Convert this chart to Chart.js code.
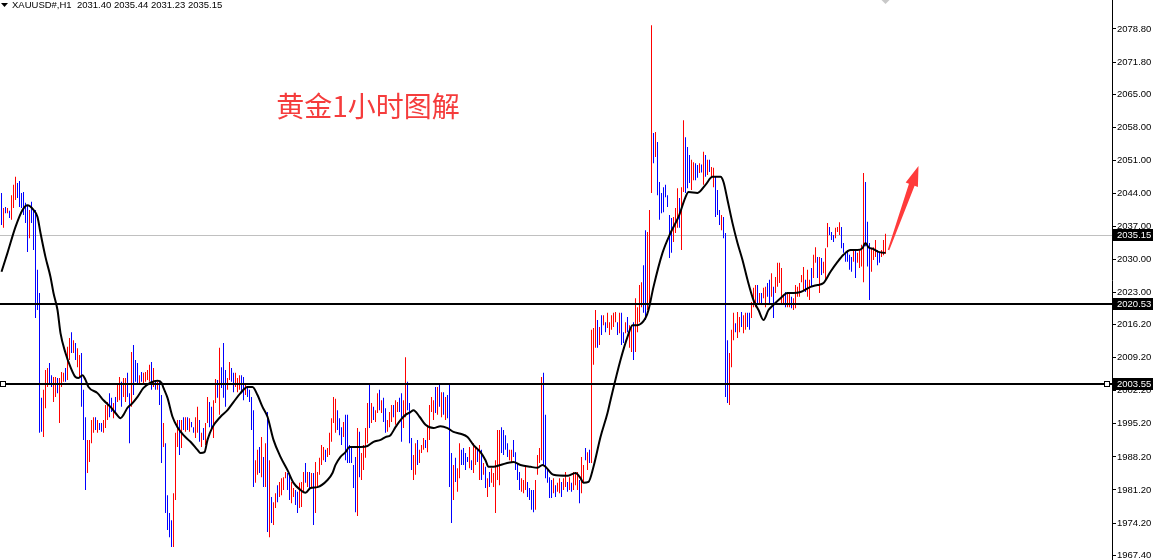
<!DOCTYPE html>
<html>
<head>
<meta charset="utf-8">
<script src="https://cdn.jsdelivr.net/npm/chart.js@4/dist/chart.umd.min.js"></script>
<style>
html,body{margin:0;padding:0;background:#fff;overflow:hidden;}
canvas{display:block;}
</style>
</head>
<body>
<canvas id="chart" width="1153" height="560"></canvas>
<script>
// H1 bars (price units)
var highs=[
2044.1,2040.9,2041.1,2040.9,2040.3,2043.6,2045.8,2047.5,2046.2,2046.6,
2044.1,2044.3,2042.0,2041.5,2040.5,2042.2,2040.5,2040.5,2027.8,2022.9,
2000.7,2002.4,2006.6,2007.0,2008.1,2005.5,2005.1,2005.1,2004.9,2004.9,
2006.2,2006.0,2007.0,2011.5,2013.4,2014.6,2012.9,2012.3,2011.2,2009.8,
2010.2,2002.4,1996.6,1991.8,1991.8,1996.0,1996.6,1996.6,1996.0,1995.4,
1995.4,1996.0,1999.2,1999.8,2001.7,2000.7,1999.6,2000.9,2003.4,2005.1,
2004.1,2004.9,2004.9,2006.0,2001.7,2010.4,2011.9,2008.7,2008.1,2005.5,
2006.2,2006.0,2006.2,2006.6,2007.7,2008.3,2007.0,2004.5,2004.1,2004.1,
2001.3,1995.4,1991.1,1980.1,1976.3,1974.8,1980.5,1993.3,1996.0,1996.0,
1996.0,1996.6,1996.6,1996.6,1996.4,1995.6,1994.5,1996.6,1998.8,1996.0,
1993.3,1994.3,1995.4,2000.9,1999.8,1998.8,2000.2,2004.7,2004.5,2011.3,
2007.2,2012.3,2006.6,2004.9,2008.3,2007.0,2006.0,2006.0,2004.9,2005.5,
2005.5,2005.1,2003.4,2003.0,2002.4,2000.9,1998.1,1987.5,1989.7,1990.3,
1992.4,1988.2,1991.1,1997.7,1987.5,1979.7,1978.6,1980.5,1982.2,1982.9,
1983.7,1983.9,1985.0,1984.8,1984.4,1982.9,1981.6,1981.2,1980.8,1982.7,
1982.9,1985.0,1986.9,1985.0,1985.0,1984.8,1984.8,1987.1,1985.0,1988.0,
1990.7,1990.3,1989.7,1990.1,1993.3,1996.4,2000.9,2000.5,1998.1,1996.4,
1994.5,1995.6,1997.1,1997.1,1990.7,1990.1,1986.5,1988.2,1994.3,1993.5,
1989.0,1990.7,1994.3,1999.6,2003.8,1999.6,1998.8,1998.1,2001.7,2002.4,
2000.2,2000.7,1998.5,1996.0,1997.7,1999.2,1999.2,2000.2,1999.8,2000.7,
2001.7,2000.2,2009.3,2004.1,1999.6,1992.2,1988.6,1991.1,1991.8,1989.7,
1990.7,1992.2,1991.8,1994.9,1999.2,2000.9,2000.2,2003.0,2003.0,2003.4,
2001.9,2001.9,2000.9,2001.3,2003.4,1989.0,1986.5,1988.0,1985.8,1991.1,
1989.7,1990.1,1989.0,1988.2,1990.3,1987.5,1991.1,1990.3,1990.1,1990.7,
1989.7,1986.9,1986.1,1983.7,1985.0,1985.8,1984.8,1987.5,1993.9,1993.9,
1994.5,1993.9,1992.8,1991.1,1989.7,1989.7,1991.8,1989.2,1986.9,1985.0,
1983.7,1983.3,1986.1,1982.9,1981.6,1981.2,1981.2,1983.3,1988.6,1990.1,
2005.1,2006.0,1997.1,1985.4,1983.9,1983.3,1983.7,1982.2,1982.7,1983.7,
1982.9,1983.7,1985.0,1982.9,1983.9,1982.7,1985.0,1985.0,1985.0,1983.3,
1988.2,1986.5,1990.1,1989.2,1989.7,
2015.1,2015.5,2019.3,2017.2,2015.7,2018.2,2018.2,2016.7,2018.7,2016.7,
2018.2,2018.7,2018.9,2016.7,2018.7,2018.7,2014.6,2016.7,2017.8,2016.1,
2016.1,2016.7,2021.8,2019.9,2024.6,2025.2,2028.8,2036.2,2035.8,2040.5,
2079.6,2056.8,2057.0,2054.9,2046.4,2044.1,2045.3,2045.8,2043.6,2039.4,
2038.8,2039.0,2040.9,2045.1,2043.0,2045.3,2059.5,2055.9,2053.8,2052.1,
2051.1,2050.6,2050.4,2050.0,2050.4,
2050.1,2052.8,2052.1,2051.1,2051.1,2049.6,2049.4,2047.5,2044.7,2040.5,
2039.4,2039.0,2035.6,2012.9,2010.2,2015.1,2018.7,2016.5,2018.9,2017.8,
2018.9,2018.2,2018.7,2018.7,2018.7,2021.0,2024.0,2024.6,2024.6,2022.9,
2022.9,2024.0,2024.2,2025.0,2025.7,2027.1,2024.2,2026.3,2029.3,2029.3,
2028.2,2022.5,2023.1,2022.9,2023.1,2022.1,2021.8,2024.6,2024.2,2025.0,
2026.7,2028.4,2025.7,2027.8,2025.7,2028.2,2031.0,2032.6,2030.5,2030.5,
2030.3,2029.5,2032.4,2037.7,2036.9,2035.8,2035.2,2036.7,2036.9,2037.9,
2036.9,2033.5,2031.6,2032.0,2031.0,2030.5,2032.0,2032.0,2031.4,2032.0,
2033.1,2048.3,2046.4,2038.0,2033.5,2032.4,2032.6,2034.1,2032.0,2031.6,
2032.0,2034.1,2035.44
];
var lows=[
2037.3,2036.7,2039.8,2039.8,2038.8,2038.4,2040.9,2042.6,2043.0,2041.1,
2040.9,2039.4,2037.7,2031.6,2034.5,2037.7,2032.0,2017.6,2019.3,1993.3,
1993.5,1992.4,1998.5,2003.0,2003.8,2003.0,1999.8,2000.9,2001.7,1995.4,
2003.0,2004.1,2004.1,2004.5,2008.7,2010.2,2010.2,2008.7,2007.2,2005.1,
1998.8,1991.8,1981.2,1984.8,1987.1,1991.1,1993.3,1993.9,1993.3,1993.9,
1993.5,1993.3,1994.3,1996.0,1996.6,1997.7,1996.4,1997.7,1999.8,2000.2,
1998.8,2000.9,1999.8,2000.9,1991.1,1998.8,2001.3,2004.1,2003.8,2003.8,
2004.1,2003.4,2004.1,2004.5,2004.1,2002.4,2003.0,2002.4,2002.4,1999.2,
1986.9,1990.3,1976.3,1972.7,1971.2,1969.1,1969.1,1979.1,1990.3,1988.6,
1990.1,1993.9,1993.5,1993.9,1993.5,1994.5,1993.3,1992.2,1993.3,1991.4,
1990.3,1991.8,1990.7,1995.4,1994.5,1994.3,1992.2,1999.6,2000.7,1997.1,
2002.8,2000.7,1998.8,2002.4,2004.5,2004.1,2001.9,2003.0,2001.9,2002.4,
2001.7,2000.2,2001.3,2000.9,1999.8,1993.9,1981.8,1982.7,1984.4,1984.8,
1983.9,1981.8,1981.8,1972.3,1971.2,1974.2,1973.8,1977.4,1978.6,1979.7,
1980.1,1981.2,1983.7,1981.2,1979.1,1978.4,1979.7,1978.0,1976.3,1977.4,
1977.6,1980.8,1982.7,1981.8,1981.2,1981.8,1973.8,1976.3,1981.6,1984.4,
1986.5,1987.5,1987.1,1988.2,1988.6,1991.4,1995.4,1993.3,1993.9,1992.8,
1990.7,1992.4,1987.5,1986.9,1986.9,1986.9,1981.6,1976.5,1975.7,1983.9,
1983.3,1985.4,1988.0,1991.1,1994.3,1995.4,1996.0,1995.6,1997.5,1998.1,
1997.5,1995.6,1993.3,1993.5,1994.5,1995.6,1996.6,1995.0,1997.7,1997.7,
1991.4,1994.3,1996.6,1998.1,1991.1,1985.4,1983.3,1984.4,1986.5,1986.9,
1989.0,1989.7,1990.1,1989.2,1991.8,1997.7,1996.0,1997.5,1997.1,1998.8,
1996.6,1997.1,1996.0,1996.4,1981.8,1974.2,1979.1,1982.9,1980.8,1983.7,
1986.5,1986.5,1985.4,1987.1,1985.8,1985.4,1984.8,1986.5,1987.1,1983.3,
1983.3,1984.4,1981.6,1979.7,1981.8,1982.7,1981.8,1976.3,1983.3,1982.2,
1989.0,1988.6,1989.7,1988.2,1987.5,1986.9,1988.2,1985.4,1983.3,1981.2,
1980.8,1980.5,1981.2,1979.7,1979.1,1977.0,1976.5,1977.0,1984.4,1986.9,
1987.5,1986.5,1983.7,1982.7,1979.5,1979.5,1980.5,1979.7,1980.8,1980.5,
1979.7,1981.2,1981.8,1980.8,1981.2,1980.8,1981.2,1982.2,1981.2,1978.4,
1980.5,1982.7,1987.5,1985.4,1986.9,
1986.9,2007.7,2011.3,2011.3,2011.9,2014.0,2016.1,2014.6,2015.5,2014.0,
2015.1,2015.7,2016.7,2014.0,2014.4,2011.9,2012.3,2014.4,2014.6,2011.3,
2010.4,2008.7,2010.4,2014.6,2016.7,2019.9,2018.7,2017.2,2019.3,2019.9,
2044.1,2050.4,2051.7,2043.6,2038.4,2039.8,2040.0,2043.2,2041.1,2030.3,
2031.4,2033.7,2035.6,2036.7,2036.7,2032.0,2044.3,2044.1,2045.1,2046.2,
2044.7,2046.8,2046.8,2047.3,2048.3,
2048.4,2045.8,2047.5,2047.9,2048.5,2047.5,2045.3,2039.0,2039.4,2037.3,
2036.2,2034.5,2000.9,1999.6,1999.2,2007.2,2012.9,2014.6,2013.4,2014.6,
2015.7,2014.4,2015.1,2015.7,2015.1,2017.6,2019.9,2019.9,2020.4,2020.8,
2020.8,2021.8,2019.9,2022.1,2020.4,2022.1,2017.6,2022.9,2024.2,2025.0,
2020.8,2020.4,2019.9,2019.9,2019.9,2019.7,2019.3,2019.7,2022.1,2022.1,
2025.2,2023.5,2023.1,2022.1,2021.4,2024.2,2026.1,2029.3,2026.1,2022.9,
2026.7,2027.1,2025.7,2032.6,2035.2,2034.1,2033.7,2034.5,2035.8,2035.2,
2032.4,2031.4,2029.5,2029.5,2027.8,2027.4,2029.5,2026.1,2029.3,2028.2,
2028.5,2025.2,2032.8,2028.5,2021.4,2027.4,2029.9,2030.5,2028.8,2029.3,
2030.5,2030.9,2031.23
];
// 1 = bull bar (red), 0 = bear bar (blue)
var upBar=[
0,1,0,1,0,1,1,1,0,0, 0,0,0,0,1,0,0,0,0,0, 0,1,1,1,0,0,1,1,0,1, 1,1,0,1,1,0,1,0,1,1, 0,0,0,1,1,1,1,0,1,0,
0,1,1,1,0,0,1,0,1,1, 0,1,1,0,0,1,0,0,0,1, 0,1,1,1,1,0,1,0,1,0, 0,1,0,0,0,0,1,1,1,0, 1,0,1,0,1,0,0,1,1,0,
1,0,1,1,0,0,1,1,0,1, 0,0,0,1,1,0,0,1,1,1, 0,0,1,0,0,0,0,1,1,0, 1,0,1,0,1,0,1,1,0,1, 1,1,1,0,0,1,1,0,0,1,
1,1,0,1,0,1,0,1,1,1, 1,1,0,1,1,1,1,1,0,0, 0,1,0,0,0,0,0,0,1,0, 1,1,1,1,0,1,0,1,1,0, 1,0,0,1,1,1,0,1,1,0,
0,1,1,0,0,0,1,1,0,1, 1,1,0,1,1,1,1,0,1,0, 1,0,1,0,0,0,1,0,1,1, 0,0,0,0,1,0,1,1,0,1, 0,1,0,1,0,1,1,1,1,1,
0,0,0,0,1,1,0,0,0,0, 1,1,1,0,0,0,0,1,1,1, 1,0,0,0,0,0,1,0,1,1, 0,1,1,0,1,0,1,1,1,0, 1,1,0,1,0,
1,1,1,0,1,0,1,0,1,1, 1,1,1,0,1,0,0,1,0,1, 1,0,1,1,1,1,0,0,1,1, 1,0,1,0,0,0,0,0,0,0, 0,1,1,1,0,1,1,0,0,0, 1,1,0,0,1,
0,1,0,1,0,1,1,0,0,0, 1,0,0,0,1,1,1,0,1,1, 0,1,1,0,0,1,1,1,0,1, 0,1,1,0,0,1,0,1,1,1, 1,1,0,1,1,0,1,1,1,1,
1,1,0,1,1,0,1,1,0,1, 0,1,1,1,0,0,0,1,1,1, 0,0,0,0,0,0,1,0,1,1, 1,1,0,0,0,1,1,1,0,0, 1,1,1
];
// black moving average, read at bar positions
var maIdx=[0,3,7,10.5,13,16,18,19.5,22,24.5,26,28,29.5,32,34.5,37,38.5,40.5,42,43.5,48,51,54.5,57,59.5,61,63,65.5,68,71,74.5,78,80,81,83,85.5,88,91,94.5,98,99.5,101.5,103,105.5,109.5,113,116,119.5,123,125.5,128,130.5,133,136,139.5,143,146,149.5,152,154.5,158,163,165.5,167,169.5,172,174,177,179.5,183,186,189.5,192,194.5,197,199.5,202,204.5,206,209,212,216,219.5,223,226,229.5,233,236,239.5,242,243.5,246,249.5,256,259.5,264.5,268,270.5,272,276,283,287,289.5,291,293.5,296,299.5,303,304.5,309.5,313,315.5,318,322,323.5,326,330.5,334.5,338.5,342,343.5,348,352,355.5,359.5,361,363,365.5,368,370.5,373,376,378.5,381,383.5,386,389.5,393,396,399.5,404.5,408,411,414.5,418,421,424.5,428,430.5,432,433.5,436,438.5,442];
var maVal=[2027.4,2031.4,2036.9,2040.5,2041.5,2040.5,2039.0,2035.6,2030.5,2026.3,2022.9,2019.3,2014.4,2010.2,2007.2,2005.1,2004.9,2005.5,2004.5,2003.0,2001.7,2000.2,1998.8,1997.5,1996.4,1997.1,1998.6,1999.6,2000.9,2002.8,2003.9,2004.3,2003.9,2002.8,2000.7,1996.7,1994.5,1992.8,1991.4,1989.7,1989.0,1989.2,1991.8,1994.5,1996.7,1998.1,1999.8,2001.7,2003.0,2003.0,2001.3,1998.8,1996.7,1991.8,1988.2,1985.4,1982.7,1981.2,1980.6,1981.6,1981.8,1983.3,1984.8,1986.5,1988.2,1989.2,1990.3,1990.3,1990.3,1990.5,1991.4,1991.8,1992.4,1992.8,1994.5,1996.0,1997.1,1997.7,1998.1,1996.7,1995.0,1994.3,1994.7,1994.3,1993.5,1993.1,1992.4,1990.7,1989.2,1987.5,1986.1,1986.1,1986.5,1987.1,1986.5,1986.1,1985.9,1986.5,1986.1,1984.4,1984.2,1984.8,1983.7,1982.7,1982.9,1986.1,1992.4,1997.5,2000.2,2008.7,2013.6,2016.1,2016.1,2017.6,2019.3,2024.2,2031.4,2035.6,2039.0,2043.2,2044.3,2044.1,2045.8,2047.5,2047.5,2046.4,2042.6,2037.7,2033.5,2029.9,2025.7,2021.4,2019.3,2017.2,2019.3,2020.4,2021.8,2022.9,2022.9,2023.1,2024.2,2024.6,2025.0,2027.4,2029.5,2031.0,2032.0,2032.0,2032.4,2033.5,2032.6,2032.2,2031.6,2031.4];

var tickVals=[2078.80,2071.80,2065.00,2058.00,2051.00,2044.00,2037.00,2030.00,2023.00,2016.20,2009.20,2002.20,1995.20,1988.20,1981.20,1974.20,1967.40];
var bidPrice=2035.15;
var levels=[2020.53,2003.55];
var header="XAUUSD#,H1  2031.40 2035.44 2031.23 2035.15";
var title="黄金1小时图解";
var titleAt=[183.25,2062.5];
var arrowFrom=[443.5,2032.0], arrowTo=[458.5,2049.8];

var barData=highs.map(function(h,i){ return {x:i, y:[lows[i],h]}; });
var barColors=upBar.map(function(u){ return u ? '#ff0000' : '#0000ff'; });
var maData=maIdx.map(function(x,i){ return {x:x, y:maVal[i]}; });

function hline(ctx, area, y, color, w) {
	ctx.save();
	ctx.strokeStyle=color;
	ctx.lineWidth=w;
	ctx.beginPath();
	ctx.moveTo(area.left, y);
	ctx.lineTo(area.right, y);
	ctx.stroke();
	ctx.restore();
}

var overlay={
	id:'overlay',
	beforeDatasetsDraw:function(chart) {
		var ys=chart.scales.y;
		var py=Math.round(ys.getPixelForValue(bidPrice))+0.5;
		hline(chart.ctx, chart.chartArea, py, '#c0c0c0', 1);
	},
	afterDatasetsDraw:function(chart) {
		var ctx=chart.ctx, ys=chart.scales.y, xs=chart.scales.x, area=chart.chartArea;
		levels.forEach(function(v) {
			hline(ctx, area, Math.round(ys.getPixelForValue(v)), '#000', 2);
		});
		// selection squares on the lower line
		var py=Math.round(ys.getPixelForValue(levels[1]));
		ctx.save();
		ctx.fillStyle='#fff'; ctx.strokeStyle='#000'; ctx.lineWidth=1;
		ctx.fillRect(0.5, py-2.5, 5, 5); ctx.strokeRect(0.5, py-2.5, 5, 5);
		ctx.fillRect(area.right-7.5, py-2.5, 5, 5); ctx.strokeRect(area.right-7.5, py-2.5, 5, 5);
		ctx.restore();

		// red arrow
		var tx=xs.getPixelForValue(arrowFrom[0]), ty=ys.getPixelForValue(arrowFrom[1]);
		var hx=xs.getPixelForValue(arrowTo[0]), hy=ys.getPixelForValue(arrowTo[1]);
		var dx=hx-tx, dy=hy-ty, len=Math.sqrt(dx*dx+dy*dy);
		dx/=len; dy/=len;
		var nx=-dy, ny=dx;
		var bx=hx-dx*20, by=hy-dy*20;
		ctx.save();
		ctx.fillStyle='#ff3b3b';
		ctx.beginPath();
		ctx.moveTo(tx+nx*0.8, ty+ny*0.8);
		ctx.lineTo(bx+nx*3, by+ny*3);
		ctx.lineTo(bx+nx*6.5, by+ny*6.5);
		ctx.lineTo(hx, hy);
		ctx.lineTo(bx-nx*6.5, by-ny*6.5);
		ctx.lineTo(bx-nx*3, by-ny*3);
		ctx.lineTo(tx-nx*0.8, ty-ny*0.8);
		ctx.closePath();
		ctx.fill();
		ctx.restore();

		// title
		ctx.save();
		ctx.font='28px "Noto Sans CJK SC"';
		ctx.fillStyle='#f53c3c';
		ctx.textAlign='center';
		ctx.textBaseline='middle';
		ctx.fillText(title, xs.getPixelForValue(titleAt[0]), ys.getPixelForValue(titleAt[1]));
		ctx.restore();
	},
	afterDraw:function(chart) {
		var ctx=chart.ctx, ys=chart.scales.y, xs=chart.scales.x, area=chart.chartArea;
		ctx.save();
		// header
		ctx.fillStyle='#000';
		ctx.beginPath();
		ctx.moveTo(1,3); ctx.lineTo(8,3); ctx.lineTo(4.5,7); ctx.closePath(); ctx.fill();
		ctx.font='9.5px "Liberation Sans"';
		ctx.textBaseline='middle';
		ctx.textAlign='left';
		ctx.fillText(header, 12, 5.5);
		// shift marker
		var sx=xs.getPixelForValue(highs.length-1);
		ctx.fillStyle='#c8c8c8';
		ctx.beginPath();
		ctx.moveTo(sx-4,0); ctx.lineTo(sx+4,0); ctx.lineTo(sx,4); ctx.closePath(); ctx.fill();
		// price boxes on the axis
		ctx.font='9.5px "Liberation Sans"';
		[bidPrice].concat(levels).forEach(function(v) {
			var py=Math.round(ys.getPixelForValue(v));
			ctx.fillStyle='#000';
			ctx.fillRect(area.right+1, py-6, chart.width-area.right-1, 12);
			ctx.fillStyle='#fff';
			ctx.fillText(v.toFixed(2), area.right+5, py+0.5);
		});
		ctx.restore();
	}
};

Chart.defaults.font.family='"Liberation Sans"';
new Chart(document.getElementById('chart').getContext('2d'), {
	data:{
		datasets:[
			{type:'line', data:maData, borderColor:'#000', borderWidth:2, pointRadius:0, cubicInterpolationMode:'monotone', fill:false, order:0},
			{type:'bar', data:barData, backgroundColor:barColors, barThickness:1, borderWidth:0, inflateAmount:0, order:1}
		]
	},
	options:{
		responsive:false,
		animation:false,
		devicePixelRatio:1,
		layout:{padding:0},
		plugins:{legend:{display:false}, tooltip:{enabled:false}},
		scales:{
			x:{type:'linear', min:-0.75, max:555.25, offset:false, display:false},
			y:{
				position:'right',
				min:1966.37, max:2084.94,
				afterFit:function(s){ s.width=41; s.paddingTop=0; s.paddingBottom=0; },
				afterBuildTicks:function(s){ s.ticks=tickVals.map(function(v){ return {value:v}; }); },
				ticks:{callback:function(v){ return Number(v).toFixed(2); }, font:{size:9.5}, color:'#000', padding:1, autoSkip:false},
				grid:{drawOnChartArea:false, drawTicks:true, tickLength:4, color:'#000'},
				border:{display:true, color:'#000'}
			}
		}
	},
	plugins:[overlay]
});
</script>
</body>
</html>
